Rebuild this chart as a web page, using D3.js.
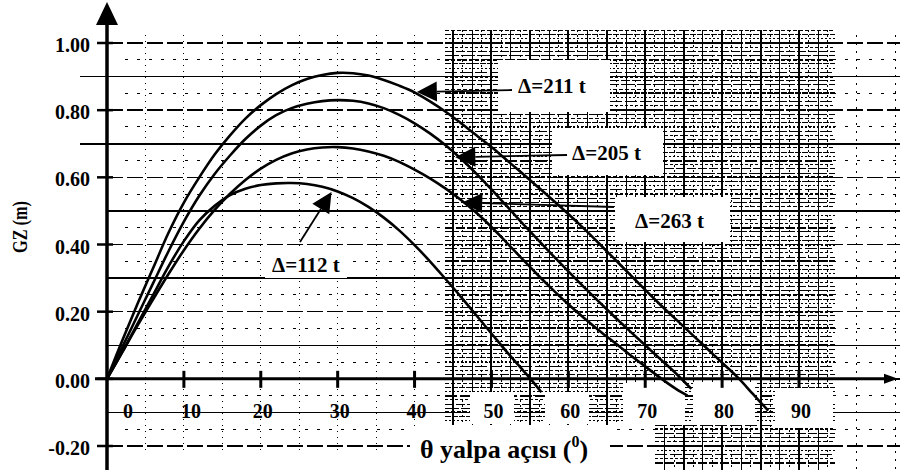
<!DOCTYPE html>
<html>
<head>
<meta charset="utf-8">
<script src="https://cdn.jsdelivr.net/npm/d3@7/dist/d3.min.js"></script>
<style>
  body { margin: 0; background: #fff; }
  text { font-family: "Liberation Serif", "Times New Roman", serif; font-weight: bold; fill: #000; }
</style>
</head>
<body>
<div id="chart"></div>
<script>
// GZ curves: [heel angle (deg), GZ (m)]
var curve211 = [[0,0],[2,0.115],[4,0.225],[6,0.33],[8,0.435],[10,0.525],[12,0.6],[14,0.668],[16,0.725],[18,0.775],
  [20,0.815],[22,0.848],[24,0.874],[26,0.893],[28,0.905],[30,0.911],[32,0.91],[34,0.903],[36,0.89],[38,0.873],
  [40,0.853],[42,0.826],[44,0.796],[46,0.762],[48,0.726],[50,0.69],[52,0.651],[54,0.612],[56,0.572],[58,0.532],
  [60,0.491],[62,0.448],[64,0.403],[66,0.357],[68,0.311],[70,0.265],[72,0.22],[74,0.177],[76,0.134],[78,0.091],
  [80,0.048],[82,0.005],[84,-0.045],[86,-0.095]];
var curve205 = [[0,0],[2,0.095],[4,0.19],[6,0.285],[8,0.38],[10,0.468],[12,0.545],[14,0.61],[16,0.665],[18,0.714],
  [20,0.754],[22,0.785],[24,0.806],[26,0.819],[28,0.827],[30,0.83],[32,0.828],[34,0.82],[36,0.806],[38,0.786],
  [40,0.761],[42,0.731],[44,0.696],[46,0.656],[48,0.612],[50,0.564],[52,0.514],[54,0.464],[56,0.415],[58,0.367],
  [60,0.32],[62,0.274],[64,0.229],[66,0.185],[68,0.142],[70,0.1],[72,0.058],[74,0.016],[76,-0.03]];
var curve263 = [[0,0],[2,0.08],[4,0.16],[6,0.237],[8,0.312],[10,0.383],[12,0.447],[14,0.503],[16,0.551],[18,0.592],
  [20,0.626],[22,0.652],[24,0.671],[26,0.683],[28,0.689],[30,0.69],[32,0.686],[34,0.677],[36,0.664],[38,0.646],
  [40,0.623],[42,0.597],[44,0.567],[46,0.533],[48,0.495],[50,0.452],[52,0.405],[54,0.357],[56,0.31],[58,0.265],
  [60,0.222],[62,0.182],[64,0.144],[66,0.108],[68,0.072],[70,0.037],[72,0.002],[74,-0.03],[75.5,-0.05]];
var curve112 = [[0,0],[2,0.08],[4,0.165],[6,0.25],[8,0.335],[10,0.41],[12,0.472],[14,0.515],[16,0.547],[18,0.566],
  [20,0.577],[22,0.582],[24,0.583],[26,0.58],[28,0.572],[30,0.558],[32,0.538],[34,0.512],[36,0.48],[38,0.442],
  [40,0.398],[42,0.35],[44,0.298],[46,0.245],[48,0.19],[50,0.135],[52,0.08],[54,0.028],[55,0.002],[56.5,-0.04]];

var seriesLabels = ["\u0394=211 t", "\u0394=205 t", "\u0394=263 t", "\u0394=112 t"];
// angle / GZ the label arrows point at
var pointerAngles = [40.3, 45.3, 46.2, 29.2];
var pointerGZ = [0.854, 0.66, 0.525, 0.556];

var xTicks = [0, 10, 20, 30, 40, 50, 60, 70, 80, 90];
var yTicks = [-0.2, 0, 0.2, 0.4, 0.6, 0.8, 1.0];

var width = 905, height = 473;

var svg = d3.select("#chart").append("svg")
  .attr("width", width)
  .attr("height", height);

var x = d3.scaleLinear().domain([0, 90]).range([107, 799]);
var y = d3.scaleLinear().domain([-0.2, 1.0]).range([446, 43]);

// ---- scan texture (grid of the photocopied paper) ----
var defs = svg.append("defs");
defs.append("clipPath").attr("id", "dense")
  .append("path").attr("d", "M445,30H835V470H655V425H445Z");

var grid = svg.append("g").attr("shape-rendering", "crispEdges");
var dashes = ["9,2", "3,2", "12,3", "2,2", "6,1", "4,2", "14,2"];

// dense area: fine horizontal + vertical lines
var dense = grid.append("g").attr("clip-path", "url(#dense)");
dense.selectAll("line.h").data(d3.range(-0.25, 1.06, 0.0125)).enter()
  .append("line")
  .attr("x1", 445).attr("x2", 835)
  .attr("y1", function(d) { return y(d); })
  .attr("y2", function(d) { return y(d); })
  .attr("stroke", "#000")
  .attr("stroke-width", function(d, i) { return i % 4 === 0 ? 2 : 1; })
  .attr("stroke-dasharray", function(d, i) { return dashes[i % dashes.length]; });
dense.selectAll("line.v").data(d3.range(0, 110, 2.5)).enter()
  .append("line")
  .attr("x1", function(d) { return x(d); })
  .attr("x2", function(d) { return x(d); })
  .attr("y1", 30).attr("y2", 470)
  .attr("stroke", "#000")
  .attr("stroke-width", function(d, i) { return i % 2 ? 1 : 2; });
dense.selectAll("line.vd").data(d3.range(1.25, 110, 2.5)).enter()
  .append("line")
  .attr("x1", function(d) { return x(d); })
  .attr("x2", function(d) { return x(d); })
  .attr("y1", 30).attr("y2", 470)
  .attr("stroke", "#000")
  .attr("stroke-width", 1)
  .attr("stroke-dasharray", "2,3");

// sparse area: dotted verticals every 5 deg
grid.selectAll("line.sv").data(d3.range(5, 45, 5)).enter()
  .append("line")
  .attr("x1", function(d) { return x(d); })
  .attr("x2", function(d) { return x(d); })
  .attr("y1", 35).attr("y2", 450)
  .attr("stroke", "#000")
  .attr("stroke-width", 1)
  .attr("stroke-dasharray", "1,5");
grid.selectAll("line.rv").data(d3.range(92.5, 105, 5)).enter()
  .append("line")
  .attr("x1", function(d) { return x(d); })
  .attr("x2", function(d) { return x(d); })
  .attr("y1", 35).attr("y2", 470)
  .attr("stroke", "#000")
  .attr("stroke-width", 1)
  .attr("stroke-dasharray", "2,6");

// major horizontal lines every 0.1
grid.selectAll("line.mh").data(d3.range(-0.2, 1.05, 0.1)).enter()
  .append("line")
  .attr("x1", function(d) { return (d > 0.65 && d < 0.95 && Math.round(d * 10) % 2) ? 80 : 107; })
  .attr("x2", 900)
  .attr("y1", function(d) { return y(d); })
  .attr("y2", function(d) { return y(d); })
  .attr("stroke", "#000")
  .attr("stroke-width", 1.5)
  .attr("stroke-dasharray", function(d, i) { return i % 2 ? "none" : "16,4"; });
// minor horizontal lines in the sparse part
grid.selectAll("line.nh").data(d3.range(-0.15, 1.0, 0.1)).enter()
  .append("line")
  .attr("x1", 125).attr("x2", 900)
  .attr("y1", function(d) { return y(d); })
  .attr("y2", function(d) { return y(d); })
  .attr("stroke", "#000")
  .attr("stroke-width", 1)
  .attr("stroke-dasharray", "3,9");

// white patches behind labels
var boxes = [[498, 60, 112, 52], [552, 128, 111, 47], [615, 197, 115, 45], [265, 250, 82, 28],
  [623, 383, 62, 42], [693, 382, 62, 43], [775, 388, 58, 40], [545, 392, 44, 32], [470, 392, 44, 32],
  [410, 426, 200, 47]];
svg.append("g").selectAll("rect").data(boxes).enter()
  .append("rect")
  .attr("x", function(d) { return d[0]; })
  .attr("y", function(d) { return d[1]; })
  .attr("width", function(d) { return d[2]; })
  .attr("height", function(d) { return d[3]; })
  .attr("fill", "#fff");

// ---- axes ----
var axes = svg.append("g");
axes.append("line")
  .attr("x1", x(0)).attr("x2", x(0))
  .attr("y1", 24).attr("y2", 470)
  .attr("stroke", "#000").attr("stroke-width", 3.5);
axes.append("path")
  .attr("d", "M" + x(0) + ",2L" + (x(0) - 11) + ",25L" + (x(0) + 11) + ",25Z")
  .attr("fill", "#000");
axes.append("line")
  .attr("x1", 95).attr("x2", 888)
  .attr("y1", y(0)).attr("y2", y(0))
  .attr("stroke", "#000").attr("stroke-width", 3);
axes.append("path")
  .attr("d", "M898," + y(0) + "L884," + (y(0) - 5) + "L884," + (y(0) + 5) + "Z")
  .attr("fill", "#000");

axes.selectAll("line.yt").data(yTicks).enter()
  .append("line")
  .attr("x1", 97).attr("x2", 113)
  .attr("y1", function(d) { return y(d); })
  .attr("y2", function(d) { return y(d); })
  .attr("stroke", "#000").attr("stroke-width", 2.5);
axes.selectAll("text.yl").data(yTicks).enter()
  .append("text")
  .attr("x", 90)
  .attr("y", function(d) { return y(d) + 9; })
  .attr("text-anchor", "end")
  .attr("font-size", "20px")
  .text(function(d) { return d.toFixed(2); });

axes.selectAll("line.xt").data(xTicks.slice(1)).enter()
  .append("line")
  .attr("x1", function(d) { return x(d); })
  .attr("x2", function(d) { return x(d); })
  .attr("y1", y(0) - 8).attr("y2", y(0) + 9)
  .attr("stroke", "#000").attr("stroke-width", 3);
axes.selectAll("text.xl").data(xTicks).enter()
  .append("text")
  .attr("x", function(d) { return x(d) + (d === 0 ? 21 : d === 10 ? 7 : 2); })
  .attr("y", 418)
  .attr("text-anchor", "middle")
  .attr("font-size", "20px")
  .text(function(d) { return d; });

// axis titles
var xt = axes.append("text")
  .attr("x", 420).attr("y", 458)
  .attr("font-size", "26px");
xt.append("tspan").text("\u03b8 yalpa a\u00e7\u0131s\u0131 (");
xt.append("tspan").attr("font-size", "16px").attr("dy", -11).text("0");
xt.append("tspan").attr("dy", 11).text(")");

axes.append("text")
  .attr("transform", "translate(27,227) rotate(-90)")
  .attr("text-anchor", "middle")
  .attr("font-size", "22px")
  .attr("textLength", 52)
  .attr("lengthAdjust", "spacingAndGlyphs")
  .text("GZ (m)");

// ---- curves ----
var line = d3.line()
  .x(function(d) { return x(d[0]); })
  .y(function(d) { return y(d[1]); })
  .curve(d3.curveCatmullRom.alpha(0.5));

svg.append("g").selectAll("path")
  .data([curve211, curve205, curve263, curve112]).enter()
  .append("path")
  .attr("d", line)
  .attr("fill", "none")
  .attr("stroke", "#000")
  .attr("stroke-width", 2.6);

// ---- labels with arrows ----
var tails = [[512, 90], [567, 155], [614, 207], [300, 242]];
var textPos = [[518, 93], [572, 160], [635, 228], [272, 272]];
var ann = svg.append("g");
seriesLabels.forEach(function(lab, i) {
  var x2 = x(pointerAngles[i]), y2 = y(pointerGZ[i]);
  var x1 = tails[i][0], y1 = tails[i][1];
  var dx = x2 - x1, dy = y2 - y1, L = Math.sqrt(dx * dx + dy * dy);
  var ux = dx / L, uy = dy / L, len = 20, half = 10;
  var bx = x2 - ux * len, by = y2 - uy * len;
  ann.append("line")
    .attr("x1", x1).attr("y1", y1).attr("x2", bx).attr("y2", by)
    .attr("stroke", "#000").attr("stroke-width", 1.8);
  ann.append("path")
    .attr("d", "M" + x2 + "," + y2 + "L" + (bx - uy * half) + "," + (by + ux * half) +
      "L" + (bx + uy * half) + "," + (by - ux * half) + "Z")
    .attr("fill", "#000");
  ann.append("text")
    .attr("x", textPos[i][0]).attr("y", textPos[i][1])
    .attr("font-size", "21px")
    .text(lab);
});
</script>
</body>
</html>
